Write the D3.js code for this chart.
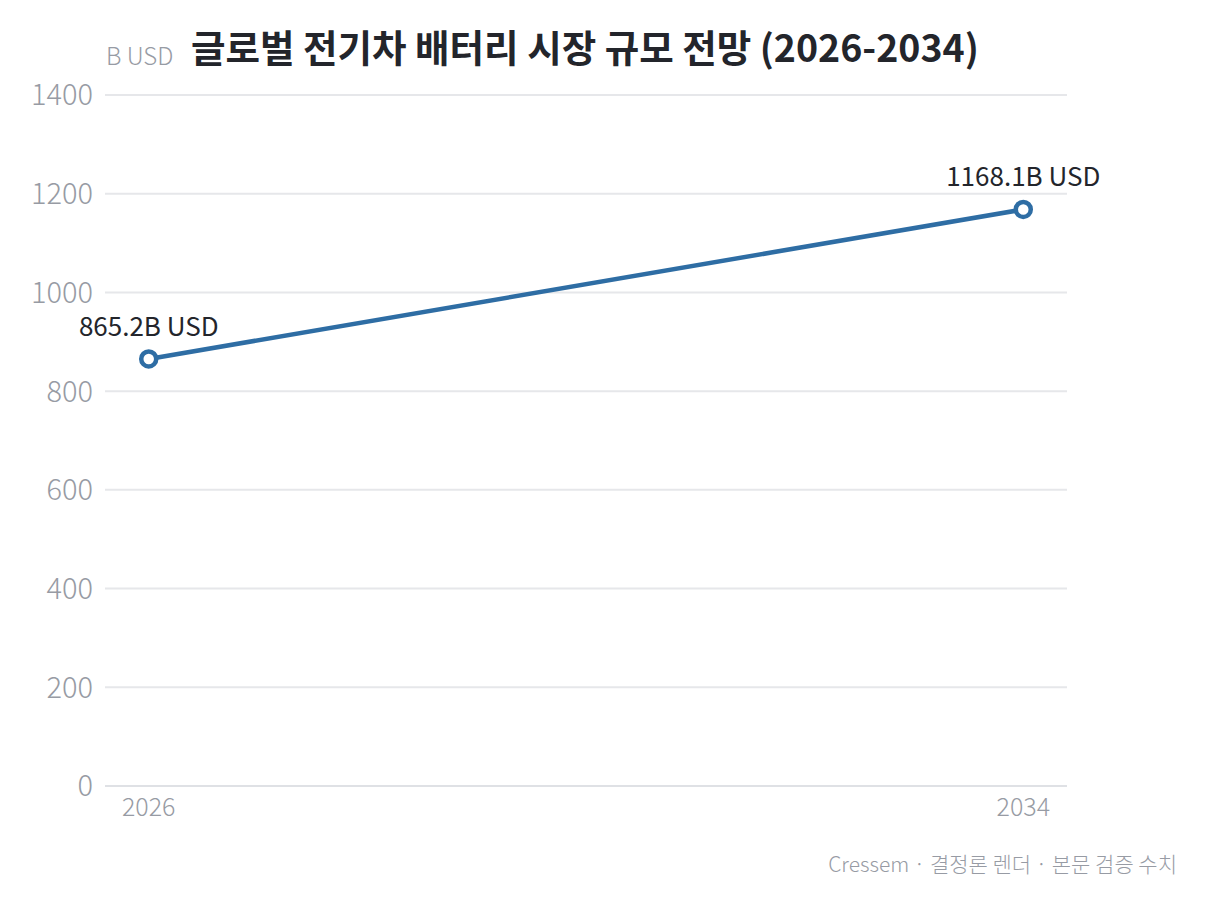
<!DOCTYPE html>
<html><head><meta charset="utf-8">
<script src="https://cdn.jsdelivr.net/npm/d3@7"></script>
<style>
body{margin:0;background:#fff;}
svg{display:block;font-family:"Noto Sans CJK KR","Noto Sans",sans-serif;}
</style></head>
<body>
<svg id="c" width="1205" height="904"></svg>
<script>
const years = ["2026", "2034"];
const values = [865.2, 1168.1];
const yTicks = [0, 200, 400, 600, 800, 1000, 1200, 1400];
const title = "글로벌 전기차 배터리 시장 규모 전망 (2026-2034)";
const unitLabel = "B USD";
const footer = "Cressem · 결정론 렌더 · 본문 검증 수치";

(function(){
const svg = d3.select("#c");
const mLeft = 105, mRight = 1067, mTop = 95, mBottom = 786;
const x = d3.scalePoint().domain(years).range([mLeft, mRight]).padding(0.05);
const y = d3.scaleLinear().domain([0, 1400]).range([mBottom, mTop]);
const gray = "#979ba4";

// grid
svg.append("g").selectAll("line").data(yTicks).join("line")
  .attr("x1", mLeft).attr("x2", mRight)
  .attr("y1", d => y(d)).attr("y2", d => y(d))
  .attr("stroke", d => d === 0 ? "#dfe1e5" : "#e6e7ea").attr("stroke-width", 2);

// y tick labels
svg.append("g").selectAll("text").data(yTicks).join("text")
  .attr("x", 93).attr("y", d => y(d)).attr("dy", "0.36em")
  .attr("text-anchor", "end").attr("font-size", 29).attr("font-weight", 300)
  .attr("fill", gray).text(d => d);

// x tick labels
svg.append("g").selectAll("text").data(years).join("text")
  .attr("x", d => x(d)).attr("y", 816)
  .attr("text-anchor", "middle").attr("font-size", 25).attr("font-weight", 300)
  .attr("fill", gray).text(d => d);

// unit label
svg.append("text").attr("x", 106).attr("y", 65).attr("font-size", 24).attr("font-weight", 300)
  .attr("fill", gray).text(unitLabel);

// title
svg.append("text").attr("x", 585).attr("y", 62).attr("text-anchor", "middle")
  .attr("font-size", 37.5).attr("font-weight", 700).attr("fill", "#23252b").text(title);

// line
const data = years.map((yr, i) => ({yr, v: values[i]}));
svg.append("path").datum(data)
  .attr("d", d3.line().x(d => x(d.yr)).y(d => y(d.v)))
  .attr("fill", "none").attr("stroke", "#2e6da4").attr("stroke-width", 4.5);

svg.append("g").selectAll("circle").data(data).join("circle")
  .attr("cx", d => x(d.yr)).attr("cy", d => y(d.v)).attr("r", 7.5)
  .attr("fill", "#fff").attr("stroke", "#2e6da4").attr("stroke-width", 4.5);

svg.append("g").selectAll("text").data(data).join("text")
  .attr("x", d => x(d.yr)).attr("y", d => y(d.v) - 23)
  .attr("text-anchor", "middle").attr("font-size", 26).attr("font-weight", 400)
  .attr("fill", "#23252b").text(d => d.v.toFixed(1) + "B USD");

// footer
svg.append("text").attr("x", 1177).attr("y", 872).attr("text-anchor", "end")
  .attr("font-size", 21).attr("font-weight", 300).attr("fill", gray).text(footer);
})();
</script>
</body></html>
